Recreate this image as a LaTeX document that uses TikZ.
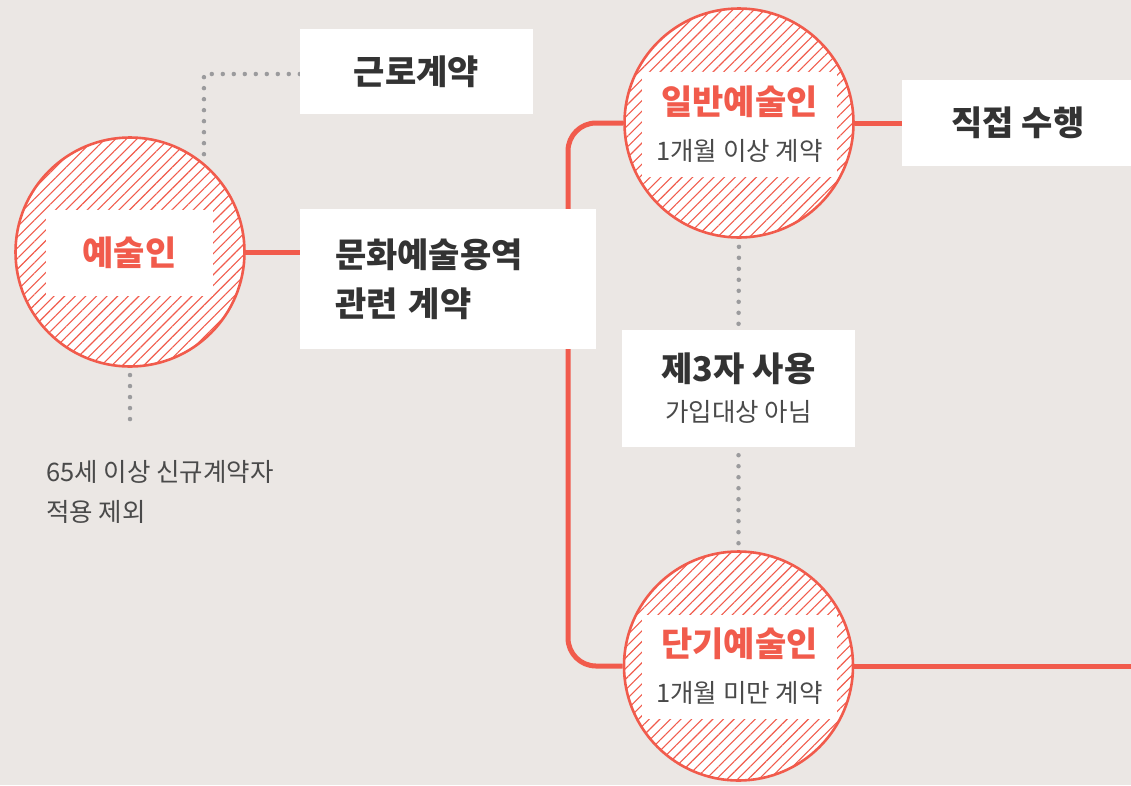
\documentclass[tikz,border=0pt]{standalone}
\usepackage{fontspec}
\setmainfont{Noto Sans CJK KR}
\usepackage{xcolor}
\usetikzlibrary{patterns.meta}
\definecolor{accent}{HTML}{F15B4C}
\definecolor{paper}{HTML}{EBE7E4}
\definecolor{dotgray}{HTML}{9B9B9D}
\definecolor{ink}{HTML}{333333}
\definecolor{soft}{HTML}{4A4A4A}
\newcommand{\headred}[1]{{\fontsize{34}{46}\selectfont\bfseries\color{accent}#1}}
\newcommand{\headdark}[1]{{\fontsize{34}{40}\selectfont\bfseries\color{ink}#1}}
\pgfdeclarelayer{bg}
\pgfdeclarelayer{links}
\pgfsetlayers{bg,links,main}

\begin{document}
\begin{tikzpicture}[x=1pt, y=-1pt,
  disc/.style={circle, minimum size=229pt, draw=accent, line width=2.6pt,
    preaction={fill=white},
    pattern={Lines[angle=45, distance=7.5pt, line width=1.1pt]}, pattern color=accent},
  card/.style={fill=white, inner sep=0pt, align=center, text=ink,
    font=\fontsize{34}{46}\selectfont\bfseries},
  redline/.style={draw=accent, line width=5pt},
  dots/.style={draw=dotgray, line width=4.5pt, line cap=round, dash pattern=on 0pt off 11pt}]
  \useasboundingbox (0,0) rectangle (1131,785);
  \begin{pgfonlayer}{bg}
    \fill[paper] (0,0) rectangle (1131,785);
  \end{pgfonlayer}

  \node[disc] (c1) at (130,252) {};
  \node[card, minimum width=167pt, minimum height=86pt, text=accent] (c1t) at (129.5,253) {예술인};
  \node[card, minimum width=233pt, minimum height=85pt] (work) at (416.5,71.5) {근로계약};
  \node[card, minimum width=296pt, minimum height=140pt, align=left, text width=226pt,
    font=\fontsize{34}{49}\selectfont\bfseries] (service) at (448,279) {문화예술용역\\관련 계약};
  \node[anchor=west, align=left, inner sep=0pt, text=soft,
    font=\fontsize{25.5}{40}\selectfont] (note) at (46,492) {65세 이상 신규계약자\\적용 제외};

  \node[disc] (c2) at (739,123) {};
  \node[card, minimum width=195pt, minimum height=105pt, text=soft,
    font=\fontsize{25.5}{46}\selectfont] (c2t) at (739.5,124.5) {\headred{일반예술인}\\1개월 이상 계약};
  \node[card, minimum width=232pt, minimum height=86pt] (direct) at (1018,123) {직접 수행};
  \node[card, minimum width=233pt, minimum height=117pt, text=soft,
    font=\fontsize{25.5}{40}\selectfont] (third) at (738.5,388.5) {\headdark{제3자 사용}\\가입대상 아님};
  \node[disc] (c3) at (738.5,666) {};
  \node[card, minimum width=195pt, minimum height=104pt, text=soft,
    font=\fontsize{25.5}{46}\selectfont] (c3t) at (739.5,666.5) {\headred{단기예술인}\\1개월 미만 계약};

  \coordinate (noteup) at (130,422);
  \coordinate (trunk) at (568,400);
  \coordinate (edge) at (1136,666);

  \begin{pgfonlayer}{links}
    \draw[redline] (c1.east) -- (c1.east -| service.west);
    \draw[redline, rounded corners=28pt] (c2.west) -| (trunk) |- (c3.west);
    \draw[redline] (c2.east) -- (direct.west);
    \draw[redline] (c3.east) -- (edge);
    \draw[dots] ([yshift=-2.5pt]work.west) -| (c1.50);
    \draw[dots, shorten <=8pt] (c1.south) -- (noteup);
    \draw[dots, shorten <=8pt, shorten >=6pt] (c2.south) -- (third.north);
    \draw[dots, shorten <=8pt, shorten >=6pt] (third.south) -- (c3.north);
  \end{pgfonlayer}
\end{tikzpicture}
\end{document}
